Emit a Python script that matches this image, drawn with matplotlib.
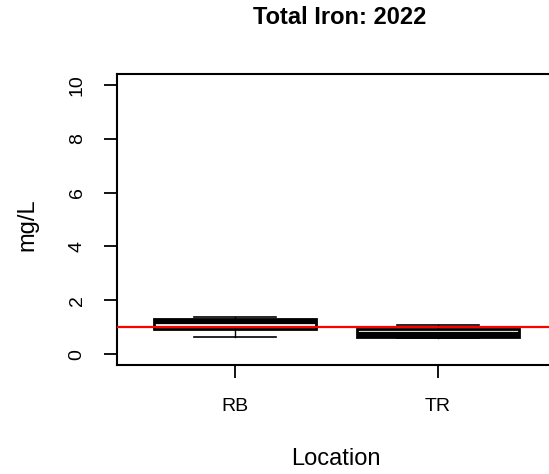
import matplotlib
matplotlib.use("Agg")
import matplotlib.pyplot as plt

plt.rcParams['font.family'] = ['Liberation Sans', 'DejaVu Sans']

# box statistics (mg/L)
locations = ['RB', 'TR']
whisker_low = [0.65, 0.61]
quart1 = [0.92, 0.65]
medians = [1.24, 0.74]
quart3 = [1.29, 0.92]
whisker_high = [1.38, 1.10]
limit = 1.0
y_ticks = [0, 2, 4, 6, 8, 10]

stats = []
for i, name in enumerate(locations):
    stats.append(dict(label=name, whislo=whisker_low[i], q1=quart1[i],
                      med=medians[i], q3=quart3[i], whishi=whisker_high[i],
                      fliers=[]))

fig = plt.figure(figsize=(5.49, 4.74), dpi=100)
# right edge of the plot box runs past the image, like the cropped original
ax = fig.add_axes([0.2131, 0.2300, 0.7996, 0.6139])

ax.bxp(stats, positions=[1, 2], widths=0.8, capwidths=0.4, patch_artist=True,
       showfliers=False,
       boxprops=dict(facecolor='white', edgecolor='black', linewidth=2.0),
       medianprops=dict(color='black', linewidth=3.8),
       whiskerprops=dict(color='black', linewidth=1.0),
       capprops=dict(color='black', linewidth=1.2))

ax.axhline(limit, color='red', linewidth=1.6, zorder=5)

ax.set_xlim(0.42, 2.58)
ax.set_ylim(-0.4, 10.4)
ax.set_yticks(y_ticks)
ax.set_xticks([1, 2])
ax.set_xticklabels(locations)

for s in ax.spines.values():
    s.set_linewidth(1.5)
ax.tick_params(axis='both', length=9.5, width=1.3, labelsize=14)
ax.tick_params(axis='x', pad=14)
ax.tick_params(axis='y', pad=13, labelrotation=90)
for lab in ax.get_yticklabels():
    lab.set_verticalalignment('center')

fig.text(0.619, 0.963, 'Total Iron: 2022', ha='center', va='center',
         fontsize=17, fontweight='bold')
fig.text(0.612, 0.032, 'Location', ha='center', va='center', fontsize=17)
fig.text(0.050, 0.527, 'mg/L', ha='center', va='center', fontsize=17,
         rotation=90)

fig.savefig('out.png', dpi=100)
